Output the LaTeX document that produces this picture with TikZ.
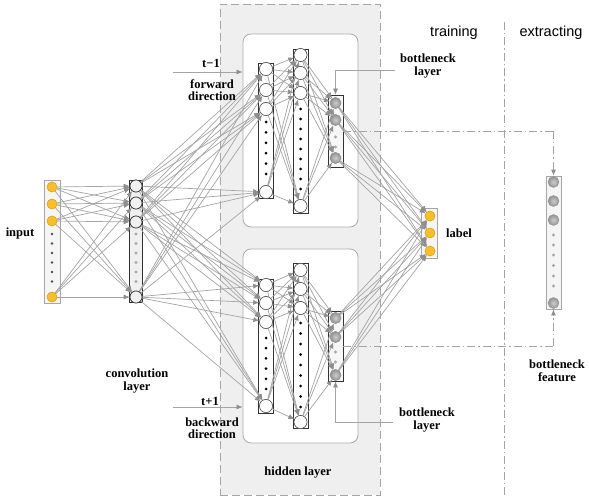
\documentclass[tikz,border=0pt]{standalone}
\usepackage{fontspec}
\setmainfont{Liberation Serif}
\newfontfamily\sansf{Liberation Sans}
\usetikzlibrary{arrows.meta}
\definecolor{linegray}{HTML}{A4A4A4}
\definecolor{tipgray}{HTML}{8E8E8E}
\definecolor{hidfill}{HTML}{EFEFEF}
\definecolor{yel}{HTML}{F8BF2A}
\definecolor{yeldark}{HTML}{D9A21A}
\begin{document}
\begin{tikzpicture}[x=1pt,y=-1pt,
  conn/.style={draw=linegray, line width=0.7pt, -{Latex[length=6pt,width=5pt,color=tipgray]}},
  dd/.style={draw=linegray, line width=0.8pt, dash pattern=on 8pt off 3pt on 1.5pt off 3pt},
  ynode/.style={circle, inner sep=0pt, minimum size=10pt, fill=yel, draw=yeldark, line width=0.4pt},
  wnode/.style={circle, inner sep=0pt, minimum size=13pt, fill=white, draw=black!70, line width=0.5pt},
  cnode/.style={circle, inner sep=0pt, minimum size=12pt, fill=gray!12, draw=black!80, line width=0.6pt},
  gnode/.style={circle, inner sep=0pt, minimum size=11pt, draw=gray!85, line width=0.4pt,
                inner color=gray!40, outer color=gray!85},
  bdot/.style={circle, inner sep=0pt, minimum size=3pt, fill=black},
  gdot/.style={circle, inner sep=0pt, minimum size=3.2pt, fill=gray!70},
  colbox/.style={rectangle, inner sep=0pt, draw=black!80, line width=0.7pt, fill=white},
  lbl/.style={font=\bfseries\fontsize{12.5}{14}\selectfont, align=center, inner sep=1pt},
  hdr/.style={font=\sansf\fontsize{14.5}{16}\selectfont, inner sep=1pt}
]
\useasboundingbox (0,0) rectangle (589,497);

% hidden layer background
\node[draw=gray!70, dash pattern=on 8pt off 4pt, line width=0.8pt, fill=hidfill, rectangle, inner sep=0pt,
      minimum width=160pt, minimum height=491pt] (hidbox) at (300,249.5) {};
\node[draw=gray!65, line width=0.8pt, fill=white, rounded corners=8pt, inner sep=0pt,
      minimum width=115pt, minimum height=193pt] (upbox) at (300.5,130.5) {};
\node[draw=gray!65, line width=0.8pt, fill=white, rounded corners=8pt, inner sep=0pt,
      minimum width=115pt, minimum height=194pt] (lowbox) at (300.5,346) {};

% phase separator
\coordinate (sepT) at (504,22);
\coordinate (sepB) at (504,497);
\draw[dd] (sepT) -- (sepB);

% column boxes
\node[colbox, draw=gray!70, fill=gray!8, minimum width=16pt, minimum height=123pt] (inbox) at (52,241.5) {};
\node[colbox, fill=gray!12, minimum width=13pt, minimum height=122pt] (cvbox) at (136,241) {};
\node[colbox, minimum width=15pt, minimum height=135pt] (uabox) at (266,130.5) {};
\node[colbox, minimum width=15pt, minimum height=164pt] (ubbox) at (300.5,131) {};
\node[colbox, fill=gray!6, minimum width=15pt, minimum height=72pt] (ucbox) at (335.5,131) {};
\node[colbox, minimum width=15pt, minimum height=134pt] (labox) at (266,346) {};
\node[colbox, minimum width=15pt, minimum height=165pt] (lbbox) at (300.5,345.5) {};
\node[colbox, fill=gray!6, minimum width=15pt, minimum height=70pt] (lcbox) at (335.5,346) {};
\node[colbox, draw=gray!70, fill=gray!8, minimum width=16pt, minimum height=50pt] (labbox) at (429,233) {};
\node[colbox, draw=gray!70, fill=gray!8, minimum width=15pt, minimum height=133pt] (exbox) at (553.5,242.5) {};

% nodes
\foreach \y [count=\i] in {187,204,221,297} \node[ynode] (in\i) at (52,\y) {};
\foreach \y in {234,243.5,253,262.5,272,281.5} \node[gdot, fill=black!70, minimum size=2.6pt] at (52,\y) {};
\foreach \y [count=\i] in {186,203,222,297} \node[cnode] (cv\i) at (136,\y) {};
\foreach \y in {234,243.5,253,262.5,272,281.5} \node[gdot] at (136,\y) {};

\foreach \y [count=\i] in {69,90,109,192} \node[wnode] (ua\i) at (266,\y) {};
\foreach \y in {122,132.4,142.8,153.2,163.6,174} \node[bdot] at (266,\y) {};
\foreach \y [count=\i] in {55,73,93,206} \node[wnode] (ub\i) at (300.5,\y) {};
\foreach \y in {109,119,129,139,149,159,169,179,189} \node[bdot] at (300.5,\y) {};
\foreach \y [count=\i] in {103,120,158} \node[gnode] (uc\i) at (335.5,\y) {};
\foreach \y in {137,147} \node[gdot] at (335.5,\y) {};

\foreach \y [count=\i] in {285,303,322,406} \node[wnode] (la\i) at (266,\y) {};
\foreach \y in {338,348.2,358.4,368.6,378.8,389} \node[bdot] at (266,\y) {};
\foreach \y [count=\i] in {270,289,308,422} \node[wnode] (lb\i) at (300.5,\y) {};
\foreach \y in {323,333.5,344,354.5,365,375.5,386,396.5,407} \node[bdot] at (300.5,\y) {};
\foreach \y [count=\i] in {318,337,375} \node[gnode] (lc\i) at (335.5,\y) {};
\foreach \y in {352,362} \node[gdot] at (335.5,\y) {};

\foreach \y [count=\i] in {216,233,251} \node[ynode] (lab\i) at (430,\y) {};
\foreach \y [count=\i] in {182,201,220,303} \node[gnode] (ex\i) at (553.5,\y) {};
\foreach \y in {235,245,255,265.5,276,286} \node[gdot] at (553.5,\y) {};

% connections
\foreach \s/\t in {in/cv, cv/ua, cv/la, ua/ub, la/lb}
  \foreach \i in {1,...,4}
    \foreach \j in {1,...,4}
      \draw[conn] (\s\i) -- (\t\j);
\foreach \s/\t in {ub/uc, lb/lc}
  \foreach \i in {1,...,4}
    \foreach \j in {1,...,3}
      \draw[conn] (\s\i) -- (\t\j);
\foreach \s in {uc, lc}
  \foreach \i in {1,...,3}
    \foreach \j in {1,...,3}
      \draw[conn] (\s\i) -- (lab\j);

% redraw nodes on top of lines
\foreach \i in {1,...,4} {
  \node[ynode] at (in\i) {};
  \node[cnode] at (cv\i) {};
  \node[wnode] at (ua\i) {};
  \node[wnode] at (ub\i) {};
  \node[wnode] at (la\i) {};
  \node[wnode] at (lb\i) {};
}
\foreach \i in {1,...,3} {
  \node[gnode] at (uc\i) {};
  \node[gnode] at (lc\i) {};
  \node[ynode] at (lab\i) {};
}

% bottleneck arrows
\coordinate (bu) at (395,70);
\draw[conn] (bu) -| (ucbox.north);
\coordinate (bl) at (393,422);
\draw[conn] (bl) -| (lcbox.south);

% time direction arrows
\coordinate (tu) at (173,72);
\draw[conn] (tu) -- (tu -| upbox.west);
\coordinate (tl) at (173,407);
\draw[conn] (tl) -- (tl -| lowbox.west);

% extraction paths
\coordinate (xu) at (553.5,131);
\coordinate (xl) at (553.5,346);
\draw[dd] (ucbox.east) -- (xu);
\draw[dd, -{Latex[length=6pt,width=5pt,color=tipgray]}] (xu) -- (exbox.north);
\draw[dd] (lcbox.east) -- (xl);
\draw[dd, -{Latex[length=6pt,width=5pt,color=tipgray]}] (xl) -- (exbox.south);

% labels
\node[lbl] (tinput) at (20,233) {input};
\node[lbl] (tconv) at (137,381) {convolution\\[-1pt]layer};
\node[lbl] (ttm) at (211,63) {t−1};
\node[lbl] (tfwd) at (212,90) {forward\\[-2pt]direction};
\node[lbl] (ttp) at (210,401) {t+1};
\node[lbl] (tbwd) at (212,428) {backward\\[-2pt]direction};
\node[lbl] (tbu) at (428,66) {bottleneck\\[-1pt]layer};
\node[lbl] (tbl) at (427,420) {bottleneck\\[-1pt]layer};
\node[lbl] (tlabel) at (459,233) {label};
\node[lbl] (thid) at (298,473) {hidden layer};
\node[lbl] (tfeat) at (557,371) {bottleneck\\[-1pt]feature};
\node[hdr] (ttrain) at (454,33) {training};
\node[hdr] (textr) at (551,33) {extracting};
\end{tikzpicture}
\end{document}
